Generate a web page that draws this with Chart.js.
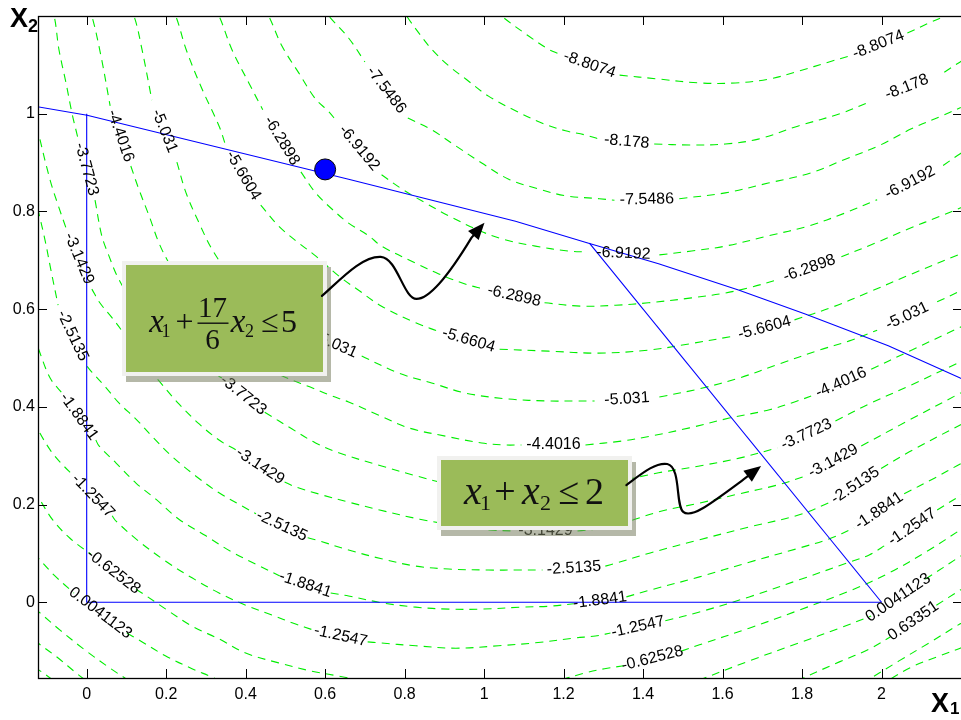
<!DOCTYPE html>
<html>
<head>
<meta charset="utf-8">
<script src="https://cdn.jsdelivr.net/npm/chart.js@4/dist/chart.umd.min.js"></script>
<style>
  html, body { margin: 0; padding: 0; background: #fff; overflow: hidden; }
  canvas { display: block; }
</style>
</head>
<body>
<canvas id="c" width="961" height="720"></canvas>
<script>
// ---- axis ticks ----
const xTicks = [0, 0.2, 0.4, 0.6, 0.8, 1, 1.2, 1.4, 1.6, 1.8, 2];
const xTickLabels = ['0', '0.2', '0.4', '0.6', '0.8', '1', '1.2', '1.4', '1.6', '1.8', '2'];
const yTicks = [0, 0.2, 0.4, 0.6, 0.8, 1];
const yTickLabels = ['0', '0.2', '0.4', '0.6', '0.8', '1'];

// ---- contour lines of the objective, [x1, x2]; null = break where the level label sits ----
const c_m8_8074 = [[1.026,1.216],[1.044,1.200],[1.112,1.159],[1.162,1.132],[1.190,1.122],null,[1.341,1.079],[1.439,1.071],[1.542,1.063],[1.632,1.063],[1.718,1.071],[1.791,1.087],[1.868,1.106],[1.919,1.118],null,[2.065,1.165],[2.120,1.186],[2.160,1.200],[2.183,1.210]];
const c_m8_178 = [[0.788,1.223],[0.805,1.200],[0.836,1.165],[0.868,1.132],[0.911,1.098],[0.954,1.071],[1.011,1.036],[1.079,1.006],[1.145,0.981],[1.205,0.965],[1.252,0.957],[1.290,0.948],null,[1.428,0.938],[1.517,0.936],[1.607,0.938],[1.690,0.948],[1.791,0.975],[1.899,1.001],[1.969,1.024],null,[2.158,1.085],[2.198,1.106],[2.221,1.116]];
const c_m7_5486 = [[0.591,1.221],[0.609,1.200],[0.659,1.155],[0.700,1.106],null,[0.808,0.991],[0.868,0.967],[0.929,0.934],[0.994,0.899],[1.062,0.866],[1.137,0.846],[1.205,0.832],[1.290,0.826],[1.328,0.823],null,[1.491,0.826],[1.607,0.838],[1.715,0.858],[1.823,0.879],[1.909,0.907],[1.992,0.934],[2.075,0.969],[2.150,0.995],[2.198,1.012],[2.233,1.024]];
const c_m6_9192 = [[0.441,1.220],[0.458,1.200],[0.491,1.139],[0.534,1.083],[0.576,1.030],[0.607,1.006],[0.629,0.985],null,[0.742,0.875],[0.793,0.846],[0.853,0.817],[0.911,0.791],[0.979,0.764],[1.044,0.744],[1.129,0.729],[1.212,0.719],[1.260,0.717],null,[1.441,0.711],[1.522,0.719],[1.607,0.729],[1.715,0.750],[1.816,0.770],[1.909,0.797],[1.989,0.824],null,[2.155,0.894],[2.198,0.918],[2.233,0.935]];
const c_m6_2898 = [[0.315,1.220],[0.333,1.200],[0.365,1.132],[0.408,1.063],[0.443,1.008],null,[0.539,0.881],[0.576,0.838],[0.617,0.805],[0.659,0.776],[0.710,0.750],[0.742,0.729],[0.828,0.694],[0.886,0.672],[0.954,0.651],[0.999,0.641],null,[1.152,0.613],[1.245,0.606],[1.331,0.608],[1.413,0.613],[1.522,0.623],[1.607,0.633],[1.672,0.645],[1.738,0.660],null,[1.899,0.707],[1.984,0.735],[2.067,0.764],[2.150,0.791],[2.198,0.807],[2.233,0.819]];
const c_m5_6604 = [[0.207,1.220],[0.224,1.200],[0.250,1.132],[0.290,1.051],[0.333,0.975],[0.350,0.934],null,[0.438,0.813],[0.483,0.770],[0.534,0.735],[0.576,0.709],[0.634,0.668],[0.687,0.637],[0.742,0.606],[0.828,0.572],[0.883,0.555],null,[1.039,0.518],[1.162,0.514],[1.288,0.510],[1.413,0.516],[1.517,0.529],[1.630,0.545],null,[1.781,0.578],[1.876,0.604],[1.969,0.635],[2.070,0.670],[2.198,0.713],[2.233,0.725]];
const c_m5_031 = [[0.101,1.220],[0.119,1.200],[0.139,1.132],[0.164,1.028],null,[0.227,0.901],[0.250,0.838],[0.283,0.776],[0.315,0.723],[0.350,0.682],[0.423,0.623],[0.498,0.578],[0.561,0.551],null,[0.692,0.504],[0.785,0.469],[0.868,0.449],[0.954,0.428],[1.062,0.416],[1.162,0.412],[1.228,0.412],[1.278,0.412],null,[1.441,0.420],[1.542,0.437],[1.642,0.459],[1.743,0.488],[1.843,0.516],[1.919,0.535],[1.989,0.557],null,[2.140,0.615],[2.198,0.637],[2.233,0.650]];
const c_m4_4016 = [[0.001,1.220],[0.013,1.200],[0.036,1.118],[0.059,1.016],null,[0.111,0.893],[0.131,0.846],[0.157,0.791],[0.182,0.735],[0.207,0.694],[0.247,0.639],[0.297,0.582],[0.360,0.533],[0.423,0.492],[0.498,0.461],[0.561,0.441],[0.612,0.424],[0.659,0.410],[0.735,0.383],[0.810,0.357],[0.903,0.340],[0.994,0.326],[1.051,0.322],[1.094,0.322],null,[1.255,0.322],[1.346,0.330],[1.418,0.340],[1.517,0.357],[1.617,0.377],[1.718,0.394],[1.781,0.410],[1.823,0.422],null,[1.974,0.477],[2.070,0.514],[2.198,0.563],[2.233,0.578]];
const c_m3_7723 = [[-0.095,1.220],[-0.082,1.200],[-0.070,1.132],[-0.052,1.063],[-0.037,1.001],[-0.022,0.950],null,[0.021,0.823],[0.038,0.750],[0.056,0.709],[0.079,0.664],[0.121,0.608],[0.184,0.553],[0.247,0.506],[0.297,0.479],[0.340,0.459],null,[0.448,0.389],[0.516,0.355],[0.576,0.326],[0.634,0.306],[0.742,0.279],[0.828,0.259],[0.913,0.242],[1.014,0.234],[1.114,0.230],[1.215,0.232],[1.315,0.244],[1.439,0.265],[1.542,0.279],[1.642,0.295],[1.738,0.316],null,[1.884,0.371],[1.969,0.406],[2.070,0.443],[2.198,0.492],[2.233,0.506]];
const c_m3_1429 = [[-0.132,1.004],[-0.120,0.956],[-0.092,0.864],[-0.072,0.813],[-0.052,0.766],null,[0.013,0.641],[0.033,0.613],[0.064,0.582],[0.089,0.555],[0.131,0.502],[0.182,0.453],[0.232,0.406],[0.283,0.365],[0.333,0.332],[0.375,0.312],null,[0.498,0.246],[0.526,0.236],[0.591,0.220],[0.659,0.205],[0.737,0.189],[0.838,0.170],[0.939,0.156],[1.014,0.148],[1.074,0.146],null,[1.235,0.146],[1.315,0.154],[1.439,0.185],[1.542,0.203],[1.642,0.222],[1.738,0.240],[1.808,0.258],null,[1.949,0.320],[2.070,0.373],[2.198,0.428],[2.233,0.443]];
const c_m2_5135 = [[-0.132,0.834],[-0.120,0.795],[-0.105,0.742],[-0.090,0.680],[-0.072,0.608],null,[0.001,0.483],[0.013,0.471],[0.049,0.439],[0.081,0.408],[0.124,0.375],[0.164,0.340],[0.214,0.299],[0.275,0.258],[0.333,0.224],[0.391,0.197],[0.426,0.181],null,[0.556,0.132],[0.576,0.128],[0.659,0.107],[0.742,0.089],[0.828,0.074],[0.911,0.068],[1.011,0.066],[1.089,0.066],[1.147,0.066],null,[1.305,0.074],[1.331,0.080],[1.418,0.101],[1.542,0.128],[1.667,0.154],[1.793,0.179],[1.869,0.204],null,[1.999,0.274],[2.070,0.308],[2.198,0.363],[2.233,0.377]];
const c_m1_8841 = [[-0.132,0.547],[-0.120,0.516],[-0.092,0.459],[-0.062,0.428],null,[0.023,0.332],[0.031,0.320],[0.074,0.285],[0.124,0.244],[0.174,0.211],[0.232,0.170],[0.300,0.136],[0.365,0.103],[0.431,0.076],[0.486,0.054],null,[0.614,0.019],[0.659,0.013],[0.742,-0.001],[0.828,-0.010],[0.911,-0.014],[0.994,-0.014],[1.094,-0.010],[1.165,-0.008],[1.225,-0.003],null,[1.358,0.011],[1.418,0.025],[1.542,0.052],[1.667,0.082],[1.793,0.111],[1.869,0.130],[1.931,0.152],null,[2.057,0.222],[2.133,0.254],[2.198,0.283],[2.233,0.297]];
const c_m1_2547 = [[-0.132,0.373],[-0.120,0.350],[-0.092,0.312],[-0.067,0.287],[-0.032,0.258],null,[0.064,0.177],[0.074,0.166],[0.131,0.125],[0.199,0.084],[0.265,0.050],[0.333,0.019],[0.400,-0.006],[0.466,-0.026],[0.524,-0.044],[0.571,-0.057],null,[0.707,-0.081],[0.735,-0.083],[0.828,-0.089],[0.929,-0.094],[1.036,-0.089],[1.129,-0.083],[1.230,-0.073],[1.280,-0.069],[1.318,-0.063],null,[1.456,-0.038],[1.542,-0.020],[1.667,0.011],[1.793,0.046],[1.919,0.082],[1.969,0.097],[2.014,0.119],null,[2.140,0.189],[2.198,0.218],[2.233,0.234]];
const c_m0_62528 = [[-0.132,0.230],[-0.120,0.213],[-0.085,0.168],[-0.042,0.131],[0.011,0.098],null,[0.124,0.027],[0.139,0.019],[0.199,-0.014],[0.265,-0.049],[0.333,-0.075],[0.400,-0.104],[0.483,-0.124],[0.566,-0.141],[0.634,-0.151],[0.712,-0.163],[0.838,-0.175],[0.989,-0.179],[1.114,-0.171],[1.190,-0.159],[1.253,-0.145],[1.303,-0.136],[1.351,-0.130],null,[1.496,-0.100],[1.542,-0.087],[1.667,-0.053],[1.793,-0.016],[1.919,0.023],[2.019,0.060],[2.120,0.107],[2.198,0.148],[2.233,0.166]];
const c_0_0041123_a = [[-0.132,0.101],[-0.120,0.089],[-0.080,0.054],[-0.032,0.019],null,[0.101,-0.063],[0.131,-0.077],[0.199,-0.110],[0.265,-0.136],[0.315,-0.153],[0.373,-0.175]];
const c_0_0041123_b = [[1.441,-0.190],[1.542,-0.159],[1.667,-0.120],[1.793,-0.083],[1.894,-0.053],[1.974,-0.028],null,[2.110,0.047],[2.198,0.094],[2.233,0.113]];
const c_0_63351_a = [[-0.132,-0.012],[-0.120,-0.020],[-0.067,-0.057],[-0.004,-0.098],[0.059,-0.135],[0.096,-0.155],[0.134,-0.175]];
const c_0_63351_b = [[1.693,-0.200],[1.793,-0.159],[1.894,-0.122],[1.969,-0.096],[2.022,-0.071],null,[2.138,-0.006],[2.198,0.025],[2.233,0.043]];
const c_1_2629_a = [[-0.132,-0.077],[-0.120,-0.085],[-0.075,-0.112],[-0.029,-0.143],[-0.004,-0.159]];
const c_1_2629_b = [[1.919,-0.179],[1.969,-0.157],[2.044,-0.120],[2.120,-0.083],[2.198,-0.044],[2.233,-0.028]];
const c_1_8923_a = [[-0.132,-0.134],[-0.120,-0.139],[-0.092,-0.155],[-0.072,-0.169]];
const c_1_8923_b = [[1.994,-0.171],[2.077,-0.132],[2.145,-0.110],[2.198,-0.094],[2.233,-0.082]];

// ---- constraints and optimum ----
const boundCurve = [[-0.130,1.015],[-0.121,1.014],[0.001,0.997],[0.659,0.866],[1.079,0.780],[1.263,0.735],[1.439,0.693],[1.640,0.639],[1.808,0.590],[2.017,0.525],[2.198,0.459],[2.210,0.455]];
const boundLine = [[1.265,0.735],[2,0]];
const boundAxes = [[0,1],[0,0],[2,0]];
const optimum = [[0.6,0.886]];

// level value attached to each contour piece (label text comes from it)
const contourSets = [
  { level: -8.8074, pts: c_m8_8074 },
  { level: -8.178, pts: c_m8_178 },
  { level: -7.5486, pts: c_m7_5486 },
  { level: -6.9192, pts: c_m6_9192 },
  { level: -6.2898, pts: c_m6_2898 },
  { level: -5.6604, pts: c_m5_6604 },
  { level: -5.031, pts: c_m5_031 },
  { level: -4.4016, pts: c_m4_4016 },
  { level: -3.7723, pts: c_m3_7723 },
  { level: -3.1429, pts: c_m3_1429 },
  { level: -2.5135, pts: c_m2_5135 },
  { level: -1.8841, pts: c_m1_8841 },
  { level: -1.2547, pts: c_m1_2547 },
  { level: -0.62528, pts: c_m0_62528 },
  { level: 0.0041123, pts: c_0_0041123_a },
  { level: 0.0041123, pts: c_0_0041123_b },
  { level: 0.63351, pts: c_0_63351_a },
  { level: 0.63351, pts: c_0_63351_b },
  { level: 1.2629, pts: c_1_2629_a },
  { level: 1.2629, pts: c_1_2629_b },
  { level: 1.8923, pts: c_1_8923_a },
  { level: 1.8923, pts: c_1_8923_b }
];

function toPoints(pts) {
  return pts.map((p, i) => {
    if (p) return { x: p[0], y: p[1] };
    const a = pts[i - 1], b = pts[i + 1];
    return { x: (a[0] + b[0]) / 2, y: null };
  });
}

// ---- annotation layout (callout boxes and arrows, in axis units) ----
const callouts = [
  { x0: 0.089, y0: 0.699, x1: 0.604, y1: 0.463, kind: 'frac' },
  { x0: 0.881, y0: 0.299, x1: 1.371, y1: 0.148, kind: 'sum' }
];
const arrows = [
  { start: [0.592, 0.627],
    curves: [[[0.638,0.660],[0.692,0.709],[0.740,0.707]],
             [[0.782,0.705],[0.797,0.621],[0.830,0.621]],
             [[0.858,0.621],[0.901,0.656],[0.968,0.746]]],
    tip: [1.001, 0.777] },
  { start: [1.358, 0.240],
    curves: [[[1.396,0.263],[1.431,0.287],[1.461,0.283]],
             [[1.496,0.277],[1.481,0.199],[1.501,0.185]],
             [[1.521,0.171],[1.566,0.199],[1.657,0.254]]],
    tip: [1.697, 0.279] }
];

const SANS = '"Liberation Sans", Arial, Helvetica, sans-serif';
const SERIF = '"Liberation Serif", "Times New Roman", Times, serif';

const datasets = [];
datasets.push({
  data: toPoints(optimum), showLine: false,
  pointRadius: 10.5, pointBackgroundColor: '#0000ff', pointBorderColor: '#000', pointBorderWidth: 1
});
[boundCurve, boundLine, boundAxes].forEach(b => datasets.push({
  data: toPoints(b), borderColor: '#0000ff', borderWidth: 1.1, pointRadius: 0, tension: 0, fill: false
}));
contourSets.forEach(c => datasets.push({
  data: toPoints(c.pts), borderColor: '#00ee00', borderWidth: 1.1, borderDash: [8, 6],
  pointRadius: 0, tension: 0.35, spanGaps: false, fill: false
}));

function drawContourLabels(chart) {
  const { ctx, scales: { x, y }, chartArea: a } = chart;
  ctx.save();
  ctx.beginPath(); ctx.rect(a.left, a.top, a.right - a.left, a.bottom - a.top); ctx.clip();
  ctx.font = '16px ' + SANS;
  ctx.fillStyle = '#000';
  ctx.textAlign = 'center';
  ctx.textBaseline = 'middle';
  contourSets.forEach(c => {
    const p = c.pts;
    for (let i = 1; i < p.length - 1; i++) {
      if (p[i] !== null) continue;
      const ax = x.getPixelForValue(p[i - 1][0]), ay = y.getPixelForValue(p[i - 1][1]);
      const bx = x.getPixelForValue(p[i + 1][0]), by = y.getPixelForValue(p[i + 1][1]);
      let ang = Math.atan2(by - ay, bx - ax);
      if (ang > Math.PI / 2) ang -= Math.PI;
      if (ang < -Math.PI / 2) ang += Math.PI;
      ctx.save();
      ctx.translate((ax + bx) / 2, (ay + by) / 2);
      ctx.rotate(ang);
      ctx.fillText(String(c.level), 0, 0);
      ctx.restore();
    }
  });
  ctx.restore();
}

function glyph(ctx, t, cx, base, size, italic) {
  ctx.font = (italic ? 'italic ' : '') + size + 'px ' + SERIF;
  ctx.textAlign = 'center';
  ctx.textBaseline = 'alphabetic';
  ctx.fillText(t, cx, base);
}

function drawCallouts(chart) {
  const { ctx, scales: { x, y } } = chart;
  callouts.forEach(b => {
    const l = Math.round(x.getPixelForValue(b.x0)), r = Math.round(x.getPixelForValue(b.x1));
    const t = Math.round(y.getPixelForValue(b.y0)), btm = Math.round(y.getPixelForValue(b.y1));
    const w = r - l, h = btm - t;
    ctx.save();
    // soft drop shadow
    ctx.fillStyle = 'rgba(120,126,96,0.55)';
    ctx.fillRect(l + 4, t + 6, w, h);
    // light frame + green face
    ctx.fillStyle = '#f1f1ef';
    ctx.fillRect(l, t, w, h);
    ctx.fillStyle = '#9bbb59';
    ctx.fillRect(l + 4, t + 4, w - 8, h - 8);
    ctx.fillStyle = '#111';
    const cx = (l + r) / 2, cy = (t + btm) / 2;
    if (b.kind === 'frac') {
      glyph(ctx, 'x', cx - 68, cy + 13, 33, true);
      glyph(ctx, '1', cx - 58.5, cy + 18, 18, false);
      glyph(ctx, '+', cx - 40, cy + 13, 32, false);
      glyph(ctx, '17', cx - 12, cy - 1.5, 29, false);
      glyph(ctx, '6', cx - 12, cy + 30, 29, false);
      ctx.fillRect(cx - 27, cy + 4, 31, 1.4);
      glyph(ctx, 'x', cx + 13.5, cy + 13, 33, true);
      glyph(ctx, '2', cx + 25, cy + 18, 18, false);
      glyph(ctx, '\u2264', cx + 45.5, cy + 13, 32, false);
      glyph(ctx, '5', cx + 64.5, cy + 13, 32, false);
    } else {
      glyph(ctx, 'x', cx - 61.5, cy + 10.5, 40, true);
      glyph(ctx, '1', cx - 49, cy + 17, 22, false);
      glyph(ctx, '+', cx - 29.5, cy + 10.5, 38, false);
      glyph(ctx, 'x', cx - 3.5, cy + 10.5, 40, true);
      glyph(ctx, '2', cx + 11, cy + 17, 22, false);
      glyph(ctx, '\u2264', cx + 34.5, cy + 10.5, 38, false);
      glyph(ctx, '2', cx + 60, cy + 10.5, 38, false);
    }
    ctx.restore();
  });
}

function drawArrows(chart) {
  const { ctx, scales: { x, y } } = chart;
  const P = p => [x.getPixelForValue(p[0]), y.getPixelForValue(p[1])];
  arrows.forEach(a => {
    ctx.save();
    ctx.strokeStyle = '#000';
    ctx.fillStyle = '#000';
    ctx.lineWidth = 2.2;
    ctx.lineCap = 'round';
    ctx.beginPath();
    const s = P(a.start);
    ctx.moveTo(s[0], s[1]);
    let last = s;
    a.curves.forEach(c => {
      const c1 = P(c[0]), c2 = P(c[1]), e = P(c[2]);
      ctx.bezierCurveTo(c1[0], c1[1], c2[0], c2[1], e[0], e[1]);
      last = e;
    });
    const tip = P(a.tip);
    ctx.lineTo(tip[0] - (tip[0] - last[0]) * 0.3, tip[1] - (tip[1] - last[1]) * 0.3);
    ctx.stroke();
    const dx = tip[0] - last[0], dy = tip[1] - last[1];
    const len = Math.hypot(dx, dy), ux = dx / len, uy = dy / len;
    const L = 17, W = 7;
    const bx = tip[0] - ux * L, by = tip[1] - uy * L;
    ctx.beginPath();
    ctx.moveTo(tip[0], tip[1]);
    ctx.lineTo(bx - uy * W, by + ux * W);
    ctx.lineTo(bx + uy * W, by - ux * W);
    ctx.closePath();
    ctx.fill();
    ctx.restore();
  });
}

const framePlugin = {
  id: 'frame',
  beforeDraw(chart) {
    const { ctx, width, height } = chart;
    ctx.save();
    ctx.fillStyle = '#fff';
    ctx.fillRect(0, 0, width, height);
    ctx.restore();
  },
  afterDatasetsDraw(chart) {
    drawContourLabels(chart);
    drawCallouts(chart);
    drawArrows(chart);
  },
  afterDraw(chart) {
    const { ctx, scales: { x, y }, chartArea: a } = chart;
    ctx.save();
    ctx.strokeStyle = '#000';
    ctx.lineWidth = 1;
    ctx.beginPath();
    xTicks.forEach(v => {
      const px = Math.round(x.getPixelForValue(v)) + 0.5;
      ctx.moveTo(px, a.bottom); ctx.lineTo(px, a.bottom - 9);
      ctx.moveTo(px, a.top); ctx.lineTo(px, a.top + 9);
    });
    yTicks.forEach(v => {
      const py = Math.round(y.getPixelForValue(v)) + 0.5;
      ctx.moveTo(a.left, py); ctx.lineTo(a.left + 8, py);
      ctx.moveTo(a.right, py); ctx.lineTo(a.right - 8, py);
    });
    ctx.stroke();
    ctx.lineWidth = 1.3;
    ctx.strokeRect(a.left - 0.5, a.top + 0.5, a.right - a.left + 2, a.bottom - a.top);
    // axis titles
    ctx.fillStyle = '#000';
    ctx.textAlign = 'left';
    ctx.textBaseline = 'alphabetic';
    ctx.font = 'bold 27px ' + SANS;
    ctx.fillText('X', 10, 27);
    ctx.font = 'bold 18px ' + SANS;
    ctx.fillText('2', 28, 32);
    ctx.font = 'bold 27px ' + SANS;
    ctx.fillText('X', 931, 712);
    ctx.font = 'bold 17px ' + SANS;
    ctx.fillText('1', 950, 714);
    ctx.restore();
  }
};

new Chart(document.getElementById('c').getContext('2d'), {
  type: 'line',
  data: { datasets },
  options: {
    responsive: false,
    animation: false,
    devicePixelRatio: 1,
    events: [],
    layout: { autoPadding: false, padding: { top: 16, left: 0, right: 0, bottom: 0 } },
    plugins: { legend: { display: false }, tooltip: { enabled: false } },
    scales: {
      x: {
        type: 'linear', min: -0.12, max: 2.2,
        grid: { display: false, drawTicks: false },
        border: { display: false },
        afterBuildTicks: s => { s.ticks = xTicks.map(v => ({ value: v })); },
        afterFit: s => { s.height = 42; },
        ticks: {
          color: '#000', padding: 7, maxRotation: 0, autoSkip: false,
          font: { family: SANS, size: 16 },
          callback: (v, i) => xTickLabels[i]
        }
      },
      y: {
        type: 'linear', min: -0.155, max: 1.2,
        grid: { display: false, drawTicks: false },
        border: { display: false },
        afterBuildTicks: s => { s.ticks = yTicks.map(v => ({ value: v })); },
        afterFit: s => { s.width = 39; },
        ticks: {
          color: '#000', padding: 4, autoSkip: false,
          font: { family: SANS, size: 16 },
          callback: (v, i) => yTickLabels[i]
        }
      }
    }
  },
  plugins: [framePlugin]
});
</script>
</body>
</html>
